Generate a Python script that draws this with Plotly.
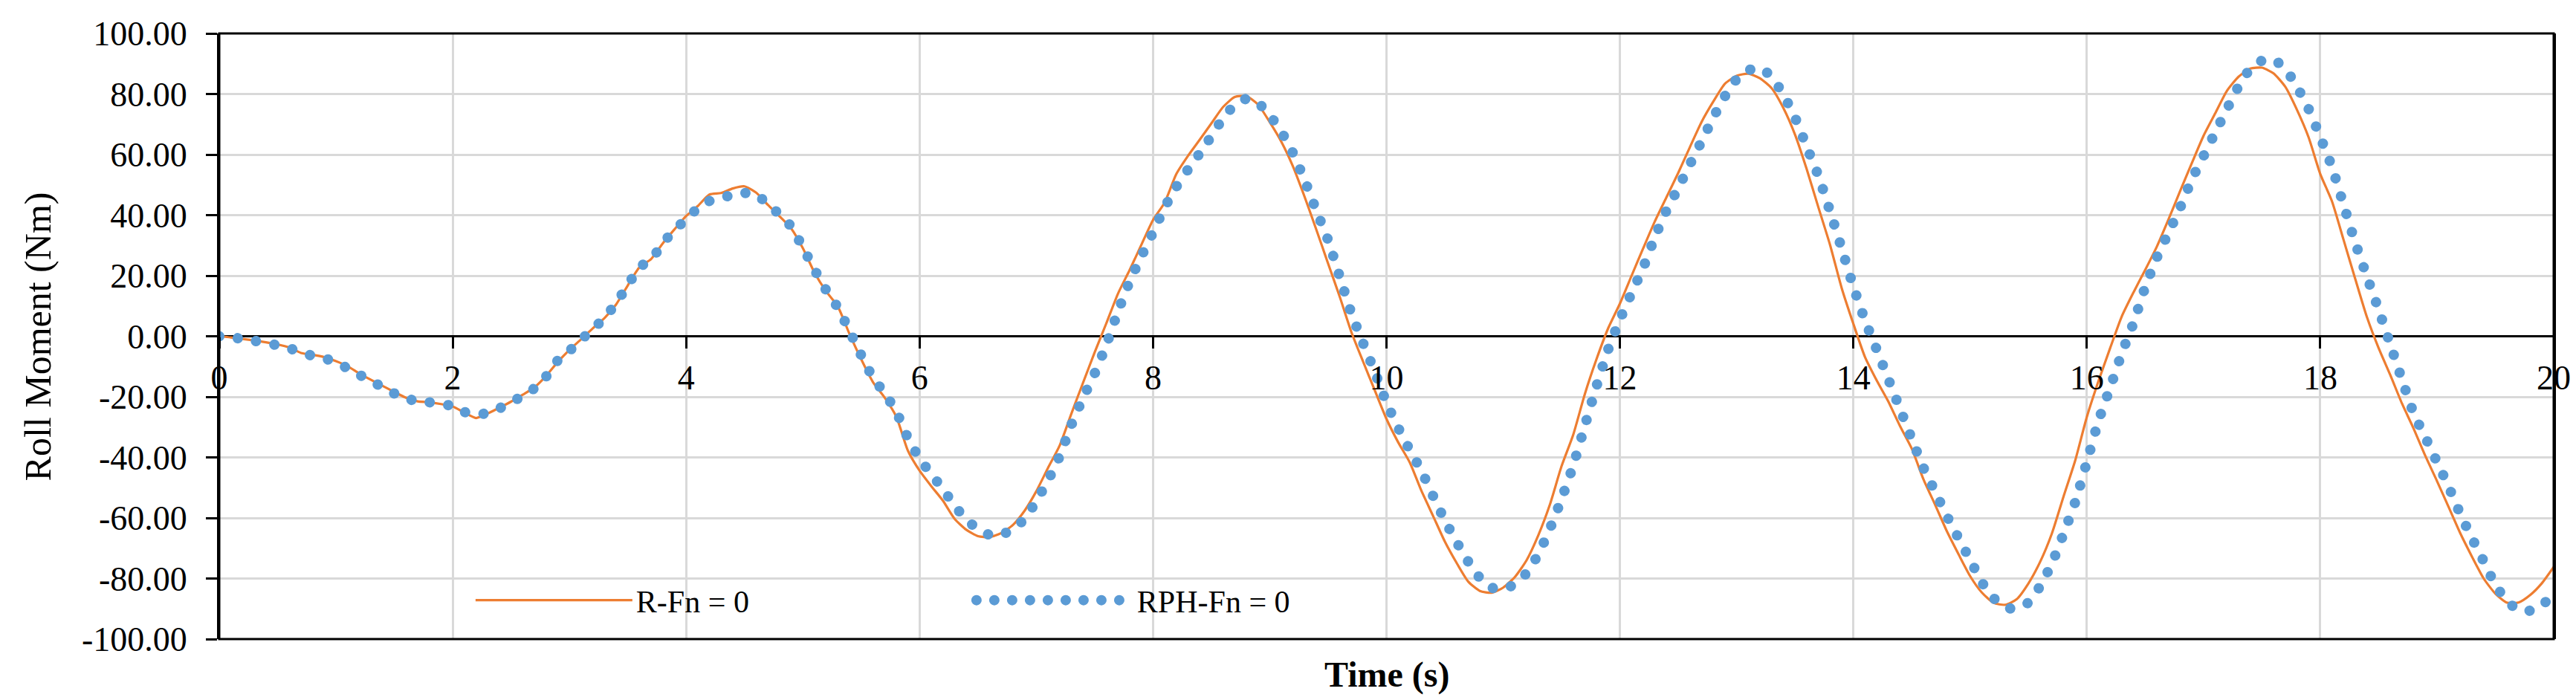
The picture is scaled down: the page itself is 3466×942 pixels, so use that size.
import plotly.graph_objects as go

time_s = [
    0.0, 0.1, 0.2, 0.3, 0.4, 0.5, 0.6, 0.7, 0.8, 0.9,
    1.0, 1.1, 1.2, 1.3, 1.4, 1.5, 1.6, 1.7, 1.8, 1.9,
    2.0, 2.1, 2.2, 2.3, 2.4, 2.5, 2.6, 2.7, 2.8, 2.9,
    3.0, 3.1, 3.2, 3.3, 3.4, 3.5, 3.6, 3.7, 3.8, 3.9,
    4.0, 4.1, 4.2, 4.3, 4.4, 4.5, 4.6, 4.7, 4.8, 4.9,
    5.0, 5.1, 5.2, 5.3, 5.4, 5.5, 5.6, 5.7, 5.8, 5.9,
    6.0, 6.1, 6.2, 6.3, 6.4, 6.5, 6.6, 6.7, 6.8, 6.9,
    7.0, 7.1, 7.2, 7.3, 7.4, 7.5, 7.6, 7.7, 7.8, 7.9,
    8.0, 8.1, 8.2, 8.3, 8.4, 8.5, 8.6, 8.7, 8.8, 8.9,
    9.0, 9.1, 9.2, 9.3, 9.4, 9.5, 9.6, 9.7, 9.8, 9.9,
    10.0, 10.1, 10.2, 10.3, 10.4, 10.5, 10.6, 10.7, 10.8, 10.9,
    11.0, 11.1, 11.2, 11.3, 11.4, 11.5, 11.6, 11.7, 11.8, 11.9,
    12.0, 12.1, 12.2, 12.3, 12.4, 12.5, 12.6, 12.7, 12.8, 12.9,
    13.0, 13.1, 13.2, 13.3, 13.4, 13.5, 13.6, 13.7, 13.8, 13.9,
    14.0, 14.1, 14.2, 14.3, 14.4, 14.5, 14.6, 14.7, 14.8, 14.9,
    15.0, 15.1, 15.2, 15.3, 15.4, 15.5, 15.6, 15.7, 15.8, 15.9,
    16.0, 16.1, 16.2, 16.3, 16.4, 16.5, 16.6, 16.7, 16.8, 16.9,
    17.0, 17.1, 17.2, 17.3, 17.4, 17.5, 17.6, 17.7, 17.8, 17.9,
    18.0, 18.1, 18.2, 18.3, 18.4, 18.5, 18.6, 18.7, 18.8, 18.9,
    19.0, 19.1, 19.2, 19.3, 19.4, 19.5, 19.6, 19.7, 19.8, 19.9,
    20.0,
]

# R-Fn = 0 (orange solid line)
r_fn0 = [
    0.0, -0.4, -0.9, -1.4, -2.0, -2.7, -3.7, -5.5, -6.1, -6.9,
    -8.2, -9.9, -12.3, -14.4, -16.4, -18.4, -20.3, -21.5, -21.8, -22.4,
    -23.2, -25.2, -27.0, -25.5, -23.6, -21.6, -19.3, -16.9, -13.1, -8.5,
    -4.5, -1.0, 2.6, 6.0, 10.5, 16.8, 22.8, 25.5, 30.7, 35.3,
    39.7, 43.0, 46.8, 47.3, 48.8, 49.5, 47.4, 43.4, 39.6, 35.6,
    29.1, 21.0, 14.8, 9.8, 0.7, -7.6, -15.1, -20.2, -26.5, -37.8,
    -44.4, -49.5, -54.3, -60.3, -63.9, -66.0, -66.3, -65.0, -62.3, -57.6,
    -51.2, -43.5, -36.1, -25.6, -15.4, -5.3, 4.3, 14.1, 21.9, 30.2,
    38.4, 44.2, 53.6, 59.6, 64.9, 70.3, 75.7, 79.0, 79.3, 76.5,
    70.7, 64.2, 56.0, 45.9, 35.1, 24.0, 13.0, 1.3, -8.4, -17.9,
    -27.3, -35.0, -41.7, -51.1, -59.4, -67.8, -74.8, -81.0, -84.1, -84.7,
    -83.0, -79.5, -74.0, -65.8, -55.6, -42.9, -32.5, -19.0, -7.5, 2.7,
    10.8, 20.0, 29.1, 38.0, 46.0, 54.0, 62.5, 70.8, 77.5, 83.4,
    86.0, 86.7, 85.2, 81.9, 75.4, 66.6, 55.2, 42.6, 30.2, 15.9,
    4.1, -6.9, -14.6, -21.6, -29.7, -37.1, -47.2, -55.6, -64.3, -71.9,
    -79.2, -84.6, -88.0, -88.7, -86.8, -81.6, -74.5, -65.2, -53.0, -41.1,
    -26.7, -14.8, -3.9, 6.6, 14.5, 21.9, 29.6, 38.6, 48.0, 57.2,
    66.2, 73.6, 81.0, 85.7, 88.4, 88.7, 86.8, 82.4, 74.8, 65.7,
    53.6, 44.6, 31.8, 18.9, 6.3, -3.9, -12.8, -22.2, -30.5, -39.5,
    -47.8, -56.4, -65.1, -72.8, -80.0, -85.0, -88.0, -87.9, -85.4, -81.5,
    -76.2,
]

# RPH-Fn = 0 (blue dotted line)
rph_fn0 = [
    0.0, -0.3, -0.9, -1.5, -2.2, -3.0, -4.0, -5.2, -6.5, -7.3,
    -8.6, -10.6, -12.7, -14.8, -16.8, -18.9, -20.4, -21.6, -21.8, -22.3,
    -23.1, -25.0, -25.9, -25.3, -23.8, -21.9, -19.6, -17.2, -13.3, -8.0,
    -4.8, -1.2, 2.4, 6.0, 11.0, 16.8, 22.8, 25.3, 30.7, 35.1,
    38.6, 42.3, 44.7, 45.6, 46.8, 47.3, 47.0, 43.4, 40.3, 36.2,
    29.3, 22.0, 15.2, 9.4, 1.7, -6.3, -13.6, -18.8, -24.9, -33.6,
    -40.4, -45.5, -50.5, -55.9, -60.6, -63.6, -65.6, -65.5, -63.7, -60.3,
    -54.4, -47.6, -39.6, -29.3, -20.4, -12.3, -2.8, 8.2, 18.1, 26.4,
    34.3, 42.6, 49.4, 55.1, 60.4, 66.1, 72.0, 76.4, 78.4, 77.0,
    73.0, 67.5, 60.4, 51.4, 41.4, 31.7, 19.6, 7.5, -2.3, -11.8,
    -21.9, -30.2, -37.6, -44.5, -52.8, -60.8, -67.9, -74.4, -79.8, -83.0,
    -83.6, -81.8, -78.2, -72.0, -63.6, -53.7, -42.7, -29.5, -16.4, -4.3,
    5.5, 14.3, 22.7, 32.8, 41.6, 49.0, 56.8, 64.4, 72.2, 79.3,
    84.9, 87.8, 88.7, 85.6, 79.8, 72.2, 62.6, 53.0, 41.3, 29.0,
    16.4, 5.2, -4.4, -14.2, -24.0, -33.9, -43.4, -51.3, -59.3, -66.6,
    -73.8, -81.2, -86.4, -89.5, -90.0, -87.9, -82.5, -75.1, -65.3, -54.8,
    -41.6, -28.0, -17.0, -5.6, 4.4, 16.2, 26.0, 34.2, 42.5, 51.8,
    59.5, 67.3, 75.0, 82.5, 88.3, 91.0, 91.3, 88.3, 82.4, 75.1,
    65.8, 55.9, 43.4, 30.9, 19.7, 8.8, -2.7, -14.3, -25.4, -33.4,
    -41.5, -49.7, -58.7, -66.7, -74.3, -82.1, -87.4, -90.5, -90.6, -88.7,
    -85.4,
]

# Tick labels
x_tick_vals = [0, 2, 4, 6, 8, 10, 12, 14, 16, 18, 20]
y_tick_vals = [-100, -80, -60, -40, -20, 0, 20, 40, 60, 80, 100]
y_tick_text = ['-100.00', '-80.00', '-60.00', '-40.00', '-20.00', '0.00',
               '20.00', '40.00', '60.00', '80.00', '100.00']

FONT = 'Liberation Serif'

# %% Figure
fig = go.Figure()

fig.add_trace(go.Scatter(x=time_s, y=r_fn0,
                         name='R-Fn = 0',
                         mode='lines',
                         line=dict(color='#ED7D31', width=3.2, shape='spline', smoothing=0.6),
                         hoverinfo='skip'))

fig.add_trace(go.Scatter(x=time_s, y=rph_fn0,
                         name='RPH-Fn = 0',
                         mode='lines',
                         line=dict(color='#5B9BD5', width=14, dash='dot', shape='spline', smoothing=0.6),
                         hoverinfo='skip'))

#x axis sits on the zero line (middle of the symmetric y range)
fig.update_xaxes(range=[0, 20],
                 tickvals=x_tick_vals,
                 anchor='free', position=0.5,
                 showline=False,
                 ticks='outside', ticklen=15, tickwidth=3, tickcolor='black',
                 showgrid=True, gridcolor='#d9d9d9', gridwidth=2.5,
                 zeroline=False,
                 tickfont=dict(family=FONT, size=46, color='black'),
                 ticklabelstandoff=0)

fig.update_yaxes(range=[-100, 100],
                 tickvals=y_tick_vals, ticktext=y_tick_text,
                 showline=True, mirror=True, linecolor='black', linewidth=3,
                 ticks='outside', ticklen=15, tickwidth=3, tickcolor='black',
                 showgrid=True, gridcolor='#d9d9d9', gridwidth=2.5,
                 zeroline=True, zerolinecolor='black', zerolinewidth=3,
                 tickfont=dict(family=FONT, size=46, color='black'),
                 ticklabelstandoff=16)

#Frame round the plot area
fig.add_shape(type='rect', xref='paper', yref='paper', x0=0, x1=1, y0=0, y1=1,
              line=dict(color='black', width=3), layer='above')

#Axis titles
fig.add_annotation(text='Roll Moment (Nm)', xref='paper', yref='paper',
                   x=-0.0777, y=0.5, textangle=-90, showarrow=False,
                   xanchor='center', yanchor='middle',
                   font=dict(family=FONT, size=50, color='black'))
fig.add_annotation(text='<b>Time (s)</b>', xref='paper', yref='paper',
                   x=0.5, y=-0.0588, showarrow=False,
                   xanchor='center', yanchor='middle',
                   font=dict(family=FONT, size=48, color='black'))

fig.update_layout(width=3466, height=942,
                  margin=dict(l=287, r=38, t=35, b=90),
                  paper_bgcolor='white', plot_bgcolor='white',
                  font=dict(family=FONT, color='black'),
                  showlegend=True,
                  legend=dict(orientation='h',
                              x=0.1082, y=0.064, xanchor='left', yanchor='middle',
                              bgcolor='rgba(0,0,0,0)',
                              itemwidth=211,
                              entrywidth=448, entrywidthmode='pixels',
                              font=dict(family=FONT, size=42, color='black')))

#Round dots for the dotted series (plot line and legend sample)
round_dots = """
var gd = document.getElementById('{plot_id}');
var line = gd.querySelectorAll('.scatterlayer .trace')[1].querySelector('path.js-line');
line.style.strokeLinecap = 'round';
line.style.strokeDasharray = '0.01px,25px';
var leg = gd.querySelectorAll('.legend .traces')[1].querySelector('path.js-line');
leg.style.strokeLinecap = 'round';
leg.style.strokeWidth = '14px';
leg.style.strokeDasharray = '0.01px,24px';
"""

fig.write_html("out.html", post_script=round_dots)
